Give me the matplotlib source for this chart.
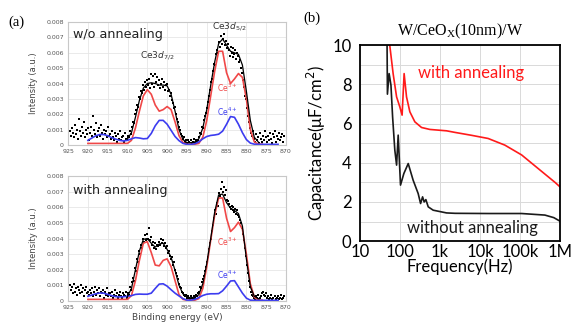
import matplotlib
matplotlib.use("Agg")
import matplotlib.pyplot as plt
import numpy as np

# ---------- (a) XPS, values in units of 1e-3 ----------
curve_e = np.arange(920, 871, -1)          # 920 ... 872 eV
env_e = np.arange(910, 876, -1)            # 910 ... 877 eV

wo_ce3 = [0.1, 0.1, 0.1, 0.1, 0.1, 0.1, 0.1, 0.1, 0.1, 0.1,
          0.1, 0.3, 1.1, 2.2, 3.2, 3.6, 3.3, 2.6, 2.2, 2.3,
          2.5, 2.3, 1.5, 0.6, 0.15, 0.05, 0.05, 0.05, 0.1, 0.5,
          1.6, 3.2, 4.8, 6.1, 6.1, 4.7, 4.0, 4.3, 4.65, 4.4,
          3.0, 1.0, 0.2, 0.05, 0.05, np.nan, np.nan, np.nan, np.nan]
wo_ce4 = [0.3, 0.45, 0.6, 0.68, 0.68, 0.6, 0.48, 0.38, 0.3, 0.26,
          0.3, 0.4, 0.48, 0.45, 0.4, 0.42, 0.75, 1.25, 1.6, 1.6,
          1.35, 0.95, 0.55, 0.28, 0.1, 0.04, 0.04, 0.08, 0.2, 0.4,
          0.55, 0.62, 0.65, 0.7, 0.9, 1.35, 1.85, 1.8, 1.35, 0.8,
          0.35, 0.12, 0.05, 0.04, 0.04, 0.04, 0.04, 0.04, 0.04]
wo_env = [0.4, 0.8, 1.8, 2.9, 3.7, 4.0, 4.05, 4.0, 3.9, 3.9,
          3.85, 3.3, 2.2, 1.0, 0.35, 0.15, 0.15, 0.2, 0.4, 1.1,
          2.3, 3.9, 5.4, 6.6, 6.9, 6.5, 6.1, 6.0, 5.9, 5.2,
          3.5, 1.6, 0.5, 0.2]
wo_dots = [0.9, 0.6, 1.1, 0.8, 0.5, 1.3, 0.7, 1.0, 0.4, 1.7, 0.9, 0.6, 1.2, 0.8, 1.5, 0.5, 1.0, 0.7, 1.1, 0.3,
           0.8, 1.2, 0.6, 1.9, 1.0, 0.7, 1.4, 0.5, 0.9, 1.1, 0.6, 1.3, 0.8, 0.4, 1.0, 0.7, 0.9, 0.5, 1.2, 0.6,
           0.7, 0.4, 0.9, 0.5, 0.3, 0.8, 0.6, 0.2, 0.7, 0.4, 0.9, 0.3, 0.5, 0.6, 0.2, 0.8, 0.4, 0.3, 0.6, 0.5,
           0.5, 0.9, 0.7, 1.2, 1.5, 1.4, 2.0, 2.3, 2.6, 2.5, 3.1, 3.0, 3.5, 3.4, 3.9, 3.6, 4.1, 3.8, 4.2, 3.9,
           4.3, 3.7, 4.6, 4.0, 4.5, 3.8, 4.6, 4.1, 4.4, 3.9, 4.2, 3.7, 4.0, 4.3, 3.8, 4.1, 3.6, 3.9, 4.0, 3.5,
           3.6, 3.2, 3.4, 2.9, 2.7, 2.4, 2.5, 2.0, 1.7, 1.5, 1.2, 1.0, 0.7, 0.6, 0.4, 0.5, 0.2, 0.3, 0.1, 0.3,
           0.2, 0.0, 0.3, 0.1, 0.2, 0.4, 0.1, 0.3, 0.2, 0.3, 0.5, 0.8, 0.7, 1.2, 1.1, 1.6, 1.9, 2.1, 2.4, 2.8,
           3.2, 3.6, 4.1, 4.3, 4.8, 5.3, 5.2, 5.9, 6.2, 6.0, 6.7, 6.4, 7.1, 6.6, 6.9, 7.2, 6.5, 6.8, 6.3, 6.6,
           6.2, 5.8, 6.4, 6.0, 5.7, 6.3, 5.9, 6.2, 5.6, 6.0, 5.8, 5.4, 5.5, 5.0, 4.7, 4.2, 3.8, 3.2, 3.0, 2.4,
           1.9, 1.5, 1.1, 0.8, 0.6, 0.9, 0.4, 0.2, 0.7, 0.3, 0.5, 0.1, 0.8, 0.4, 0.2, 0.6, 0.3, 0.9, 0.5, 0.2,
           0.6, 0.3, 0.8, 0.4, 0.1, 0.7, 0.5, 0.9, 0.2, 0.6, 0.4, 0.8, 0.3, 0.5, 0.7, 0.2, 0.6]

an_ce3 = [0.1, 0.1, 0.1, 0.1, 0.1, 0.1, 0.1, 0.1, 0.1, 0.1,
          0.1, 0.35, 1.3, 2.6, 3.7, 3.8, 3.1, 2.3, 2.25, 2.6,
          2.7, 2.2, 1.3, 0.4, 0.1, 0.05, 0.05, 0.05, 0.15, 0.8,
          2.2, 3.9, 5.5, 6.6, 6.6, 5.3, 4.45, 4.7, 5.05, 4.6,
          3.0, 1.1, 0.25, 0.05, 0.05, np.nan, np.nan, np.nan, np.nan]
an_ce4 = [0.3, 0.38, 0.46, 0.51, 0.5, 0.42, 0.34, 0.28, 0.26, 0.27,
          0.3, 0.34, 0.42, 0.44, 0.43, 0.43, 0.5, 0.8, 1.08, 1.1,
          0.95, 0.72, 0.5, 0.32, 0.15, 0.05, 0.05, 0.1, 0.22, 0.35,
          0.43, 0.46, 0.46, 0.47, 0.65, 0.95, 1.28, 1.3, 0.9, 0.5,
          0.18, 0.05, 0.04, 0.04, 0.04, 0.04, 0.04, 0.04, 0.04]
an_env = [0.3, 0.8, 2.0, 3.2, 3.95, 4.0, 3.7, 3.45, 3.65, 3.7,
          3.3, 2.8, 1.95, 1.0, 0.45, 0.25, 0.2, 0.25, 0.4, 1.1,
          2.4, 4.0, 5.7, 6.8, 6.85, 6.3, 5.95, 5.8, 5.6, 4.8,
          2.7, 0.9, 0.3, 0.15]
an_dots = [1.0, 0.7, 0.9, 0.5, 1.1, 0.6, 0.8, 0.4, 0.9, 0.7, 0.5, 1.0, 0.6, 0.8, 0.3, 0.7, 0.9, 0.5, 0.6, 0.4,
           0.7, 0.5, 0.8, 0.3, 0.6, 0.9, 0.4, 0.7, 0.5, 0.8, 0.3, 0.6, 0.5, 0.7, 0.2, 0.6, 0.4, 0.8, 0.3, 0.5,
           0.5, 0.3, 0.6, 0.2, 0.4, 0.7, 0.3, 0.5, 0.2, 0.4, 0.6, 0.3, 0.2, 0.5, 0.4, 0.3, 0.6, 0.2, 0.4, 0.5,
           0.4, 0.9, 0.7, 1.2, 1.5, 1.3, 2.1, 1.9, 2.7, 2.5, 3.2, 3.0, 3.6, 3.4, 4.0, 3.8, 4.2, 3.9, 4.3, 4.0,
           4.7, 3.9, 4.1, 3.6, 3.8, 3.4, 3.7, 3.3, 3.6, 3.5, 3.8, 3.6, 4.0, 3.7, 3.9, 3.5, 3.7, 3.4, 3.5, 3.1,
           3.2, 2.9, 2.7, 2.8, 2.3, 2.5, 2.0, 1.8, 1.6, 1.4, 1.1, 0.9, 0.8, 0.6, 0.5, 0.4, 0.3, 0.4, 0.2, 0.3,
           0.2, 0.1, 0.3, 0.2, 0.1, 0.3, 0.2, 0.4, 0.3, 0.5, 0.6, 0.9, 0.8, 1.2, 1.4, 1.6, 1.9, 2.2, 2.5, 2.8,
           3.3, 3.7, 4.0, 4.5, 4.9, 5.3, 5.8, 5.6, 6.3, 6.1, 6.9, 6.7, 7.2, 7.6, 7.0, 7.3, 6.8, 7.1, 6.5, 6.4,
           6.2, 6.0, 5.9, 6.1, 5.8, 6.0, 5.7, 5.9, 5.6, 5.8, 5.5, 5.4, 5.2, 5.0, 4.7, 4.3, 3.9, 3.4, 2.9, 2.3,
           1.8, 1.3, 0.9, 0.6, 0.4, 0.3, 0.2, 0.1, 0.3, 0.2, 0.4, 0.1, 0.2, 0.3, 0.5, 0.6, 0.4, 0.3, 0.5, 0.2,
           0.3, 0.1, 0.2, 0.4, 0.1, 0.2, 0.0, 0.3, 0.1, 0.2, 0.3, 0.1, 0.2, 0.4, 0.1, 0.2, 0.3]

# ---------- (b) C-f ----------
f_with = [56, 68, 83, 100, 114, 128, 147, 178, 237, 348, 562, 1470, 2370, 6200,
          16000, 42000, 110000, 287000, 750000, 1000000]
c_with = [10, 8.55, 7.36, 6.85, 6.43, 8.55, 7.36, 6.6, 6.09, 5.8, 5.7, 5.63, 5.55, 5.4,
          5.24, 4.9, 4.4, 3.7, 3.0, 2.77]
f_without = [48, 49, 54, 60, 66, 75, 83, 91, 104, 126, 162, 215, 287, 330, 370, 405,
             447, 512, 680, 1470, 2400, 16000, 110000, 420000, 700000, 1000000]
c_without = [10, 7.5, 8.55, 7.96, 6.34, 4.64, 3.88, 5.41, 2.86, 3.45, 3.96, 3.11, 2.43,
             1.92, 2.26, 2.0, 2.12, 1.75, 1.58, 1.44, 1.42, 1.41, 1.41, 1.33, 1.2, 1.02]
freq_ticks = [10, 100, 1000, 10000, 100000, 1000000]
freq_labels = ["10", "100", "1k", "10k", "100k", "1M"]

RED = "#f04848"
BLUE = "#3c3cf0"

fig = plt.figure(figsize=(5.72, 3.25), dpi=100)


def xps_panel(rect, dots, ce3, ce4, env, label, l3, l4):
    ax = fig.add_axes(rect)
    e_dots = np.linspace(924.5, 870.5, len(dots))
    ax.plot(e_dots, np.array(dots) * 1e-3, "s", color="black", ms=1.7, mew=0)
    ax.plot(curve_e, np.array(ce3) * 1e-3, color=RED, lw=1.2)
    ax.plot(curve_e, np.array(ce4) * 1e-3, color=BLUE, lw=1.2)
    ax.plot(env_e, np.array(env) * 1e-3, color="black", lw=0.9)
    ax.set_xlim(925, 870)
    ax.set_ylim(0, 0.008)
    ax.set_xticks(np.arange(925, 869, -5))
    ax.set_yticks(np.arange(0, 0.0081, 0.001))
    ax.set_yticklabels(["0"] + ["%.3f" % v for v in np.arange(0.001, 0.0081, 0.001)])
    ax.tick_params(length=0, labelsize=4.5, colors="#555555", pad=3)
    ax.grid(color="#e6e6e6", lw=0.6)
    ax.set_axisbelow(True)
    for s in ax.spines.values():
        s.set_color("#c8c8c8")
        s.set_linewidth(0.8)
    ax.set_ylabel("Intensity (a.u.)", fontsize=6, color="#444444", labelpad=6)
    ax.text(923.8, label[1], label[0], fontsize=9.2, color="#222222", va="center")
    ax.text(887.4, l3, "Ce$^{3+}$", fontsize=5.5, color=RED, va="center")
    ax.text(887.4, l4, "Ce$^{4+}$", fontsize=5.5, color=BLUE, va="center")
    return ax


ax1 = xps_panel([0.119, 0.554, 0.381, 0.378], wo_dots, wo_ce3, wo_ce4, wo_env,
                ("w/o annealing", 0.0072), 0.0037, 0.00215)
ax1.text(902.5, 0.0058, "Ce3$d_{7/2}$", fontsize=6.5, color="#333333", ha="center", va="center")
ax1.text(884.3, 0.0077, "Ce3$d_{5/2}$", fontsize=6.5, color="#333333", ha="center", va="center")

ax2 = xps_panel([0.119, 0.074, 0.381, 0.384], an_dots, an_ce3, an_ce4, an_env,
                ("with annealing", 0.0071), 0.0038, 0.00165)
ax2.set_xlabel("Binding energy (eV)", fontsize=6.5, color="#444444", labelpad=2)

fig.text(0.014, 0.93, "(a)", fontsize=10.5, family="Liberation Serif", va="center")

# ---------- panel (b) ----------
ax3 = fig.add_axes([0.629, 0.258, 0.350, 0.603])
ax3.plot(f_with, c_with, color="#ff1a1a", lw=1.2)
ax3.plot(f_without, c_without, color="#1a1a1a", lw=1.2)
ax3.set_xscale("log")
ax3.set_xlim(10, 1e6)
ax3.set_ylim(0, 10)
ax3.set_xticks(freq_ticks)
ax3.set_xticklabels(freq_labels)
ax3.minorticks_off()
ax3.set_yticks(np.arange(0, 11, 2))
ax3.set_yticks(np.arange(1, 10, 2), minor=True)
ax3.grid(which="both", color="#d9d9d9", lw=0.7)
ax3.tick_params(which="both", length=0, labelsize=12)
ax3.tick_params(axis="y", pad=6)
ax3.tick_params(axis="x", pad=2)
for lab in ax3.get_xticklabels() + ax3.get_yticklabels():
    lab.set_family("Lato")
for s in ax3.spines.values():
    s.set_linewidth(1.3)
ax3.set_xlabel("Frequency(Hz)", fontsize=12, family="Lato", labelpad=-1)
ax3.set_ylabel("Capacitance(\u03bcF/cm$^2$)", fontsize=12, family="Lato", labelpad=3)
ax3.text(282, 8.57, "with annealing", color="#ff1a1a", fontsize=12, family="Lato", va="center")
ax3.text(150, 0.66, "without annealing", color="#1a1a1a", fontsize=12, family="Lato", va="center")
ax3.set_title("W/CeO$_\\mathregular{X}$(10nm)/W", fontsize=11.5, family="Liberation Serif", pad=7)
fig.text(0.53, 0.945, "(b)", fontsize=10.5, family="Liberation Serif", va="center")

fig.savefig("out.png", dpi=100)
